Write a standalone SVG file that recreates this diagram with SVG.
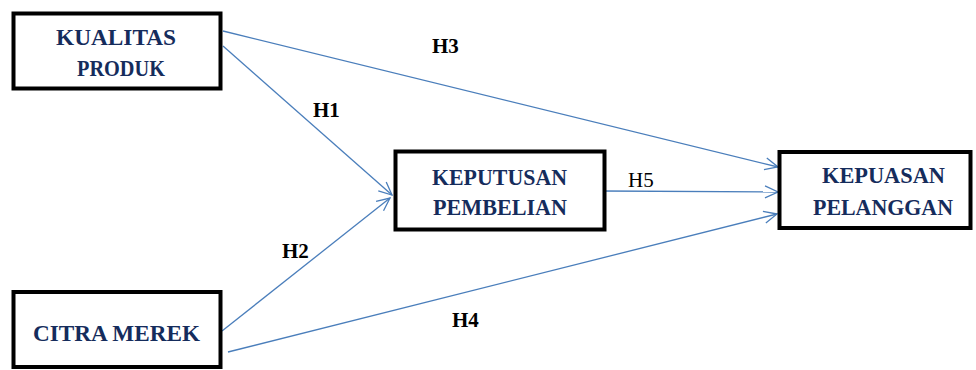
<svg xmlns="http://www.w3.org/2000/svg" width="976" height="370" viewBox="0 0 976 370">
<style>
.box{fill:#fff;stroke:#000;stroke-width:4}
.nt{font-weight:bold;font-size:23px;fill:#152c5c;text-anchor:middle}
.lb{font-weight:bold;font-size:21px;fill:#000}
.lr{font-size:21px;fill:#000}
.cn{stroke:#4a7ebb;stroke-width:1.3;fill:none;marker-end:url(#ah)}
</style>
<defs>
<marker id="ah" markerUnits="userSpaceOnUse" markerWidth="16" markerHeight="16" refX="14" refY="7" orient="auto">
<path d="M1,1 L14,7 L1,13" fill="none" stroke="#4a7ebb" stroke-width="1.3"/>
</marker>
</defs>
<rect width="976" height="370" fill="#fff"/>
<g id="connectors">
<line class="cn" x1="223" y1="31" x2="778" y2="167"/>
<line class="cn" x1="223" y1="46" x2="392" y2="195"/>
<line class="cn" x1="222" y1="331" x2="390" y2="198"/>
<line class="cn" x1="228" y1="352" x2="777" y2="214"/>
<line class="cn" x1="602" y1="191" x2="778" y2="192"/>
</g>
<g font-family="'Liberation Serif', 'Times New Roman', 'DejaVu Serif', serif">
<g id="kualitas">
<rect class="box" x="13.5" y="13.5" width="207" height="75"/>
<text class="nt" x="116" y="45" textLength="120" lengthAdjust="spacingAndGlyphs">KUALITAS</text>
<text class="nt" x="121" y="76" textLength="88" lengthAdjust="spacingAndGlyphs">PRODUK</text>
</g>
<g id="citra">
<rect class="box" x="13.5" y="292" width="207" height="75"/>
<text class="nt" x="116.5" y="341" textLength="167" lengthAdjust="spacingAndGlyphs">CITRA MEREK</text>
</g>
<g id="keputusan">
<rect class="box" x="395.5" y="151.5" width="209" height="78"/>
<text class="nt" x="499.5" y="185" textLength="135" lengthAdjust="spacingAndGlyphs">KEPUTUSAN</text>
<text class="nt" x="500" y="215" textLength="134" lengthAdjust="spacingAndGlyphs">PEMBELIAN</text>
</g>
<g id="kepuasan">
<rect class="box" x="779.5" y="152" width="191" height="76"/>
<text class="nt" x="883.5" y="183" textLength="123" lengthAdjust="spacingAndGlyphs">KEPUASAN</text>
<text class="nt" x="883" y="215" textLength="140" lengthAdjust="spacingAndGlyphs">PELANGGAN</text>
</g>
<g id="labels">
<text class="lb" x="432" y="53">H3</text>
<text class="lb" x="313" y="117">H1</text>
<text class="lb" x="282" y="258">H2</text>
<text class="lb" x="452" y="327">H4</text>
<text class="lr" x="628" y="187">H5</text>
</g>
</g>
</svg>
